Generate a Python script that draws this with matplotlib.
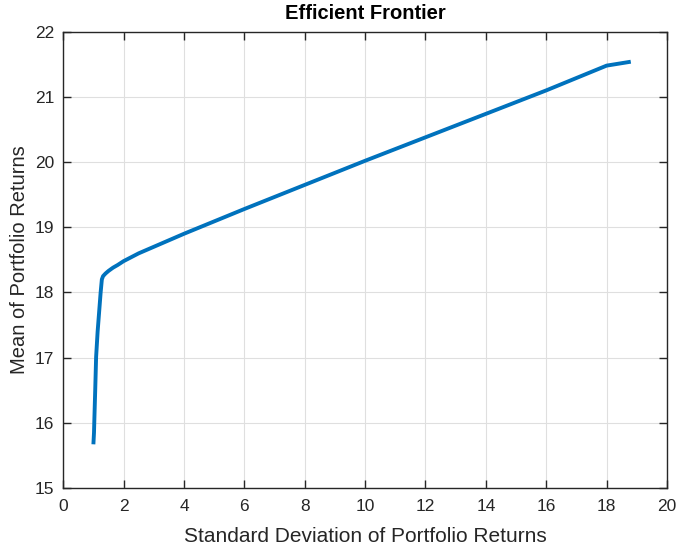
import numpy as np
import matplotlib
matplotlib.use("Agg")
import matplotlib.pyplot as plt

plt.rc("font", family=["Liberation Sans", "DejaVu Sans"])

# frontier points (std dev, mean)
risk = [1.00, 1.02, 1.03, 1.06, 1.09, 1.14, 1.19, 1.24, 1.28, 1.32, 1.40, 1.50, 1.65, 1.80, 2.00,
        2.50, 3.00, 4.00, 5.00, 6.00, 8.00, 10.00, 12.00, 14.00, 16.00, 18.00, 18.80]
ret = [15.67, 15.85, 16.02, 16.50, 17.01, 17.40, 17.70, 18.00, 18.20, 18.25, 18.29, 18.33, 18.38, 18.42, 18.48,
       18.60, 18.70, 18.90, 19.09, 19.28, 19.65, 20.02, 20.38, 20.74, 21.10, 21.48, 21.54]

fig = plt.figure(figsize=(6.76, 5.47), dpi=100)
ax = fig.add_axes([0.0935, 0.1079, 0.8932, 0.8341])

ax.plot(risk, ret, color="#0072BD", linewidth=2.8, solid_capstyle="butt")

ax.set_xlim(0, 20)
ax.set_ylim(15, 22)
ax.set_xticks(np.arange(0, 21, 2))
ax.set_yticks(np.arange(15, 23, 1))
ax.grid(True, color="#DFDFDF", linewidth=0.8)
ax.set_axisbelow(True)
ax.tick_params(direction="in", top=True, right=True, length=5.5, labelsize=12.5,
               colors="#262626", width=1)
ax.tick_params(axis="y", pad=6.5)
ax.tick_params(axis="x", pad=8)
for s in ax.spines.values():
    s.set_color("#262626")
    s.set_linewidth(1)

ax.set_title("Efficient Frontier", fontsize=14.5, fontweight="bold", color="black", pad=9)
ax.set_xlabel("Standard Deviation of Portfolio Returns", fontsize=15, color="#262626", labelpad=9)
ax.set_ylabel("Mean of Portfolio Returns", fontsize=14.5, color="#262626", labelpad=4)

fig.savefig("out.png", dpi=100)
